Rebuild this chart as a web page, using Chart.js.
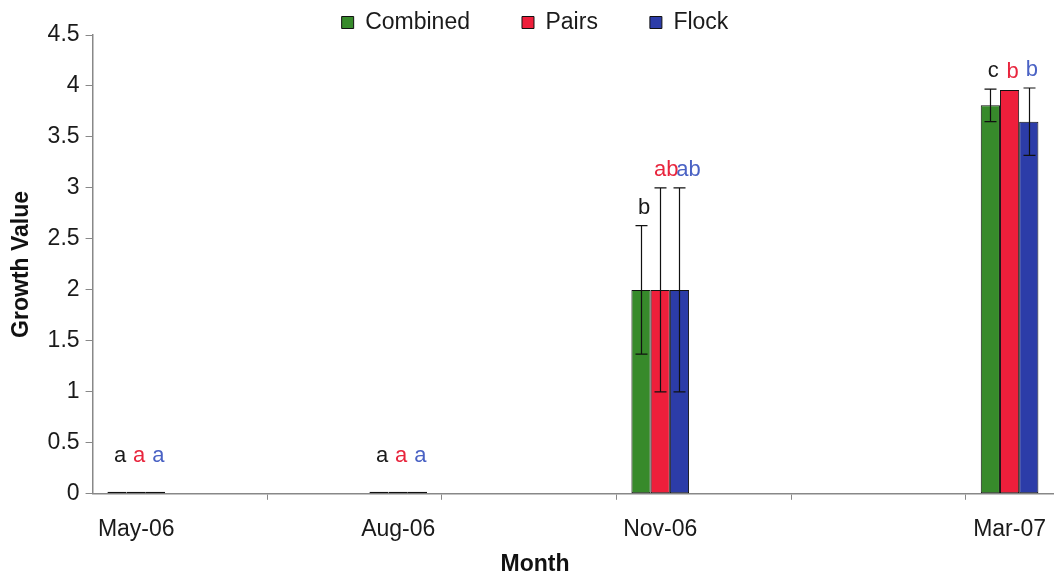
<!DOCTYPE html>
<html>
<head>
<meta charset="utf-8">
<script src="https://cdn.jsdelivr.net/npm/chart.js@4.4.1/dist/chart.umd.min.js"></script>
<style>
  html, body { margin: 0; padding: 0; background: #fff; }
  #wrap { width: 1062px; height: 579px; position: relative; }
</style>
</head>
<body>
<div id="wrap"><canvas id="chart"></canvas></div>
<script>
// months on the axis (one slot per month), only sampled ones get a label
const axisMonths = ['May-06','Jun-06','Jul-06','Aug-06','Sep-06','Oct-06','Nov-06','Dec-06','Jan-07','Feb-07','Mar-07'];
const sampleMonths = ['May-06','Aug-06','Nov-06','Mar-07'];

const combined = [0, 0, 2, 3.81];
const pairs = [0, 0, 2, 3.96];
const flock = [0, 0, 2, 3.65];

const combinedErr = [0, 0, 0.63, 0.16];
const pairsErr = [0, 0, 1.0, 0];
const flockErr = [0, 0, 1.0, 0.33];

const combinedLetters = ['a', 'a', 'b', 'c'];
const pairsLetters = ['a', 'a', 'ab', 'b'];
const flockLetters = ['a', 'a', 'ab', 'b'];

const yTicks = [0, 0.5, 1, 1.5, 2, 2.5, 3, 3.5, 4, 4.5];

const FONT = '"Liberation Sans", Arial, sans-serif';

const series = [
  { label: 'Combined', values: combined, err: combinedErr, letters: combinedLetters, color: '#378a2b', text: '#1a1a1a' },
  { label: 'Pairs', values: pairs, err: pairsErr, letters: pairsLetters, color: '#ee1f3b', text: '#e8253d' },
  { label: 'Flock', values: flock, err: flockErr, letters: flockLetters, color: '#2c3ca8', text: '#4a62c4' }
];

const errorBars = {
  id: 'errorBars',
  afterDatasetsDraw(chart) {
    const ctx = chart.ctx;
    const y = chart.scales.y;
    ctx.save();
    ctx.strokeStyle = '#111';
    ctx.lineWidth = 1.2;
    series.forEach((s, di) => {
      const meta = chart.getDatasetMeta(di);
      meta.data.forEach((bar, i) => {
        const e = s.err[i];
        if (!e) return;
        const top = y.getPixelForValue(s.values[i] + e);
        const bot = y.getPixelForValue(s.values[i] - e);
        const x = Math.round(bar.x) + 0.5;
        ctx.beginPath();
        ctx.moveTo(x, top); ctx.lineTo(x, bot);
        ctx.moveTo(x - 6, top); ctx.lineTo(x + 6, top);
        ctx.moveTo(x - 6, bot); ctx.lineTo(x + 6, bot);
        ctx.stroke();
      });
    });
    ctx.restore();
  }
};

const letterLabels = {
  id: 'letterLabels',
  afterDatasetsDraw(chart) {
    const ctx = chart.ctx;
    const y = chart.scales.y;
    const zero = y.getPixelForValue(0);
    ctx.save();
    ctx.font = '22px ' + FONT;
    ctx.textAlign = 'center';
    ctx.textBaseline = 'middle';
    series.forEach((s, di) => {
      const meta = chart.getDatasetMeta(di);
      meta.data.forEach((bar, i) => {
        const txt = s.letters[i];
        const top = y.getPixelForValue(s.values[i] + s.err[i]);
        const ly = Math.min(top - 18, zero - 38);
        // two-letter labels are spread a bit so they don't collide
        const dx = 3 + di * (txt.length - 1) * 3;
        ctx.fillStyle = s.text;
        ctx.fillText(txt, bar.x + dx, ly);
      });
    });
    ctx.restore();
  }
};

new Chart(document.getElementById('chart'), {
  type: 'bar',
  data: {
    labels: axisMonths,
    datasets: series.map(s => ({
      label: s.label,
      data: sampleMonths.map((m, i) => ({ x: m, y: s.values[i] })),
      backgroundColor: s.color,
      borderColor: '#111',
      borderWidth: 1,
      borderSkipped: false,
      minBarLength: 2,
      categoryPercentage: 0.66,
      barPercentage: 1
    }))
  },
  options: {
    responsive: true,
    maintainAspectRatio: false,
    animation: false,
    layout: { padding: { left: 8, right: 0, top: -41, bottom: 0 } },
    plugins: {
      legend: {
        position: 'top',
        maxHeight: 76,
        labels: {
          font: { family: FONT, size: 23 },
          color: '#1a1a1a',
          boxWidth: 12,
          boxHeight: 12,
          padding: 52
        }
      },
      // x axis title, drawn centred on the whole figure like the original
      title: {
        display: true,
        position: 'bottom',
        text: 'Month',
        color: '#111',
        font: { family: FONT, size: 23, weight: 'bold' },
        padding: { top: -9, bottom: 1 }
      },
      tooltip: { enabled: false }
    },
    scales: {
      x: {
        type: 'category',
        offset: true,
        grid: {
          offset: true,
          drawOnChartArea: false,
          tickLength: 6,
          color: c => (c.index > 0 && c.index % 2 === 0) ? '#888' : 'rgba(0,0,0,0)'
        },
        border: { color: '#888', width: 1.5 },
        ticks: {
          autoSkip: false,
          maxRotation: 0,
          padding: 16,
          color: '#1a1a1a',
          font: { family: FONT, size: 23 },
          callback: function (v) {
            const m = this.getLabelForValue(v);
            return sampleMonths.includes(m) ? m : '';
          }
        }
      },
      y: {
        min: 0,
        max: 4.5,
        afterBuildTicks: axis => { axis.ticks = yTicks.map(v => ({ value: v })); },
        grid: { drawOnChartArea: false, tickLength: 7, color: '#888' },
        border: { color: '#888', width: 1.5 },
        ticks: {
          padding: 6,
          color: '#1a1a1a',
          font: { family: FONT, size: 23 },
          callback: v => String(v)
        },
        title: {
          display: true,
          text: 'Growth Value',
          color: '#111',
          font: { family: FONT, size: 23, weight: 'bold' },
          padding: { top: 0, bottom: 6 }
        }
      }
    }
  },
  plugins: [errorBars, letterLabels]
});
</script>
</body>
</html>
